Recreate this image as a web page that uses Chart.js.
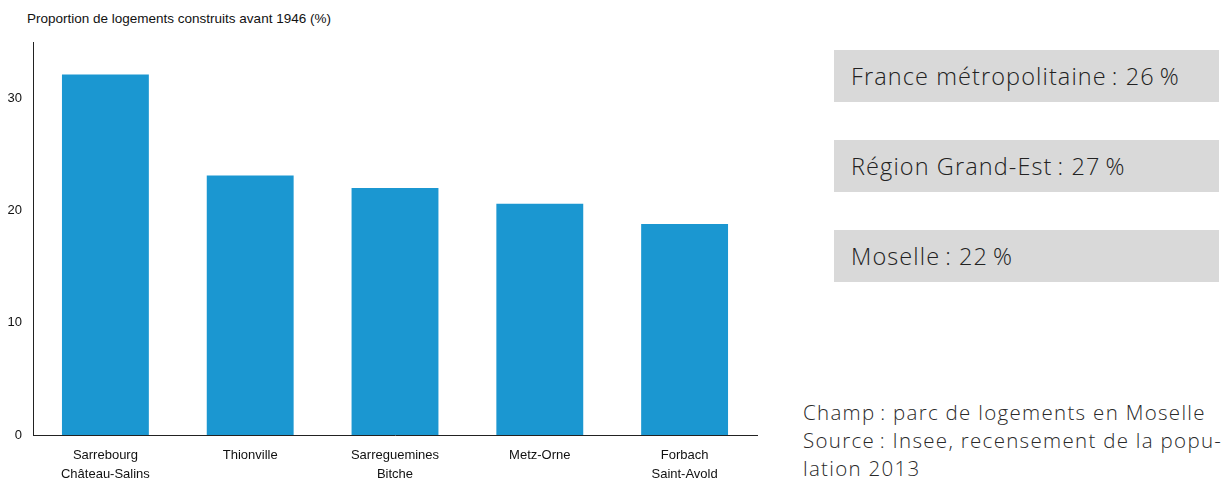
<!DOCTYPE html>
<html><head><meta charset="utf-8">
<script src="https://cdn.jsdelivr.net/npm/chart.js@4"></script>
<style>
html,body{margin:0;padding:0;background:#fff;}
body{width:1223px;height:480px;position:relative;overflow:hidden;font-family:"Liberation Sans",Arial,sans-serif;}
#wrap{position:absolute;left:0;top:0;width:770px;height:480px;}
#title{position:absolute;left:27px;top:11px;font-size:13.5px;color:#111;}
.box{position:absolute;left:834px;width:385px;height:52px;background:#d9d9d9;font-family:"Open Sans",Lato,sans-serif;font-weight:300;font-size:23.5px;color:#222;line-height:52px;padding-left:17px;box-sizing:border-box;letter-spacing:1.1px;white-space:nowrap;}
#note{position:absolute;left:803px;top:398px;font-family:"Open Sans",Lato,sans-serif;font-weight:300;font-size:20.5px;line-height:28px;color:#2a2a2a;letter-spacing:1.3px;white-space:nowrap;}
</style></head>
<body>
<div id="title">Proportion de logements construits avant 1946 (%)</div>
<div id="wrap"><canvas id="c"></canvas></div>
<div class="box" id="b1" style="top:50px"></div>
<div class="box" id="b2" style="top:140px"></div>
<div class="box" id="b3" style="top:230px"></div>
<div id="note">Champ&#8201;: parc de logements en Moselle<br>Source&#8201;: Insee, recensement de la popu-<br>lation 2013</div>
<script>
const categories = [["Sarrebourg","Château-Salins"],"Thionville",["Sarreguemines","Bitche"],"Metz-Orne",["Forbach","Saint-Avold"]];
const values = [32.1, 23.1, 22.0, 20.6, 18.8];
const yTicks = [0, 10, 20, 30];
const refLabels = ["France métropolitaine", "Région Grand-Est", "Moselle"];
const refValues = [26, 27, 22];

refLabels.forEach((l,i)=>{
  document.getElementById('b'+(i+1)).textContent = l + "\u2009: " + refValues[i] + "\u2009%";
});

new Chart(document.getElementById('c'), {
  type: 'bar',
  data: { labels: categories, datasets: [{ data: values, backgroundColor: '#1b97d1', categoryPercentage: 1, barPercentage: 0.6 }] },
  options: {
    responsive: true, maintainAspectRatio: false, animation: false,
    layout: { padding: { left: 0, right: 13, top: 42, bottom: 0 } },
    plugins: { legend: { display: false }, tooltip: { enabled: false } },
    scales: {
      x: {
        grid: { display: false, drawTicks: false },
        border: { display: true, color: '#222', width: 1 },
        ticks: { color: '#111', font: { family: 'Liberation Sans', size: 13, lineHeight: 1.45 }, padding: 11, maxRotation: 0, autoSkip: false },
        afterFit: s => { s.height = 45; }
      },
      y: {
        min: 0, max: 35,
        grid: { display: false, drawTicks: false },
        border: { display: true, color: '#222', width: 1 },
        afterBuildTicks: s => { s.ticks = yTicks.map(v => ({ value: v })); },
        ticks: { color: '#111', font: { family: 'Liberation Sans', size: 13 }, padding: 11 },
        afterFit: s => { s.width = 33; }
      }
    }
  }
});
</script>
</body></html>
